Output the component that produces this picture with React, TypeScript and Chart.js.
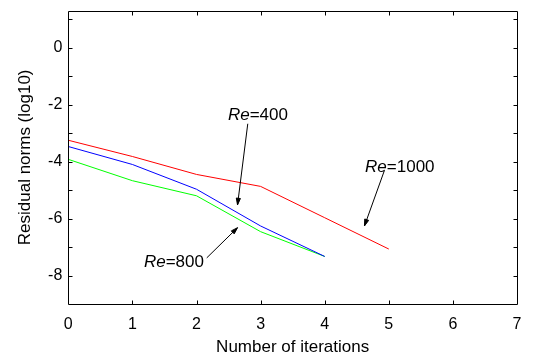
import React, { useEffect, useRef } from 'react';
import { Chart, registerables } from 'chart.js';

Chart.register(...registerables);

// Data
const iterations1000 = [0, 1, 2, 3, 4, 5];
const re1000 = [-3.25, -3.82, -4.45, -4.87, -5.97, -7.07];
const iterations400 = [0, 1, 2, 3, 4];
const re400 = [-3.47, -4.1, -4.97, -6.26, -7.33];
const iterations800 = [0, 1, 2, 3, 4];
const re800 = [-3.92, -4.67, -5.2, -6.46, -7.33];

const xTicks = [0, 1, 2, 3, 4, 5, 6, 7];
const yTickLabels = [0, -2, -4, -6, -8];

// Annotations (data coordinates)
const annLabels = ['400', '800', '1000'];
const annTextX = [2.49, 1.18, 4.63];
const annTextY = [-2.38, -7.55, -4.2];
const annFromX = [2.8, 2.16, 4.93];
const annFromY = [-2.67, -7.38, -4.32];
const annToX = [2.64, 2.64, 4.62];
const annToY = [-5.52, -6.32, -6.26];

const FONT = '"Liberation Sans", Arial, Helvetica, sans-serif';

const framePlugin = {
  id: 'frame',
  afterDatasetsDraw(chart: any) {
    const { ctx, chartArea, scales } = chart;
    const xs = scales.x;
    const ys = scales.y;
    ctx.save();
    ctx.strokeStyle = '#000';
    ctx.lineWidth = 1;
    const L = Math.round(chartArea.left) + 0.5;
    const R = Math.round(chartArea.right) + 0.5;
    const T = Math.round(chartArea.top) + 0.5;
    const B = Math.round(chartArea.bottom) + 0.5;
    ctx.beginPath();
    ctx.rect(L, T, R - L, B - T);
    ctx.stroke();
    const tl = 4;
    ctx.beginPath();
    for (let v = 1; v <= 6; v++) {
      const px = Math.round(xs.getPixelForValue(v)) + 0.5;
      ctx.moveTo(px, B);
      ctx.lineTo(px, B - tl);
      ctx.moveTo(px, T);
      ctx.lineTo(px, T + tl);
    }
    for (let v = -8; v <= 1; v++) {
      const py = Math.round(ys.getPixelForValue(v)) + 0.5;
      ctx.moveTo(L, py);
      ctx.lineTo(L + tl, py);
      ctx.moveTo(R, py);
      ctx.lineTo(R - tl, py);
    }
    ctx.stroke();

    // annotations
    for (let i = 0; i < annLabels.length; i++) {
      const tx = xs.getPixelForValue(annTextX[i]);
      const ty = ys.getPixelForValue(annTextY[i]);
      ctx.fillStyle = '#000';
      ctx.textBaseline = 'middle';
      ctx.textAlign = 'left';
      ctx.font = 'italic 17px ' + FONT;
      ctx.fillText('Re', tx, ty);
      const w = ctx.measureText('Re').width;
      ctx.font = '17px ' + FONT;
      ctx.fillText('=' + annLabels[i], tx + w, ty);

      const fx = xs.getPixelForValue(annFromX[i]);
      const fy = ys.getPixelForValue(annFromY[i]);
      const ex = xs.getPixelForValue(annToX[i]);
      const ey = ys.getPixelForValue(annToY[i]);
      ctx.beginPath();
      ctx.moveTo(fx, fy);
      ctx.lineTo(ex, ey);
      ctx.stroke();
      const ang = Math.atan2(ey - fy, ex - fx);
      const hl = 7;
      const ha = 0.3;
      ctx.beginPath();
      ctx.moveTo(ex, ey);
      ctx.lineTo(ex - hl * Math.cos(ang - ha), ey - hl * Math.sin(ang - ha));
      ctx.lineTo(ex - hl * Math.cos(ang + ha), ey - hl * Math.sin(ang + ha));
      ctx.closePath();
      ctx.fillStyle = '#000';
      ctx.fill();
      ctx.stroke();
    }
    ctx.restore();
  },
};

export default function App() {
  const ref = useRef<HTMLCanvasElement>(null);
  useEffect(() => {
    document.body.style.margin = '0';
    const toPts = (xs: number[], ys: number[]) => xs.map((x, i) => ({ x, y: ys[i] }));
    const chart = new Chart(ref.current as HTMLCanvasElement, {
      type: 'line',
      data: {
        datasets: [
          { label: 'Re=1000', data: toPts(iterations1000, re1000), borderColor: '#ff0000', borderWidth: 1, pointRadius: 0, fill: false, tension: 0 },
          { label: 'Re=400', data: toPts(iterations400, re400), borderColor: '#0000ff', borderWidth: 1, pointRadius: 0, fill: false, tension: 0 },
          { label: 'Re=800', data: toPts(iterations800, re800), borderColor: '#00ff00', borderWidth: 1, pointRadius: 0, fill: false, tension: 0 },
        ],
      },
      options: {
        responsive: false,
        animation: false,
        events: [],
        layout: { padding: { top: 10.7, right: 22, left: 0, bottom: 0 } },
        plugins: { legend: { display: false }, tooltip: { enabled: false } },
        scales: {
          x: {
            type: 'linear',
            min: 0,
            max: 7,
            afterFit: (s: any) => { s.height = 55; s.paddingLeft = 0; s.paddingRight = 0; },
            afterBuildTicks: (s: any) => { s.ticks = xTicks.map((v) => ({ value: v })); },
            ticks: { stepSize: 1, color: '#000', font: { family: FONT, size: 16 }, padding: 11, maxRotation: 0, autoSkip: false },
            grid: { display: false, drawTicks: false, tickLength: 0 },
            border: { display: false },
            title: { display: true, text: 'Number of iterations', color: '#000', font: { family: FONT, size: 17 }, padding: { top: 0, bottom: 1 } },
          },
          y: {
            type: 'linear',
            min: -9,
            max: 1.3,
            afterFit: (s: any) => { s.width = 68.3; s.paddingTop = 0; s.paddingBottom = 0; },
            afterBuildTicks: (s: any) => { s.ticks = yTickLabels.map((v) => ({ value: v })); },
            ticks: { color: '#000', font: { family: FONT, size: 16 }, padding: 6, autoSkip: false },
            grid: { display: false, drawTicks: false, tickLength: 0 },
            border: { display: false },
            title: { display: true, text: 'Residual norms (log10)', color: '#000', font: { family: FONT, size: 17 }, padding: { top: 15.5, bottom: 0 } },
          },
        },
      },
      plugins: [framePlugin],
    } as any);
    return () => chart.destroy();
  }, []);
  return (
    <div style={{ width: 539, height: 359 }}>
      <canvas ref={ref} width={539} height={359} style={{ display: 'block' }} />
    </div>
  );
}
